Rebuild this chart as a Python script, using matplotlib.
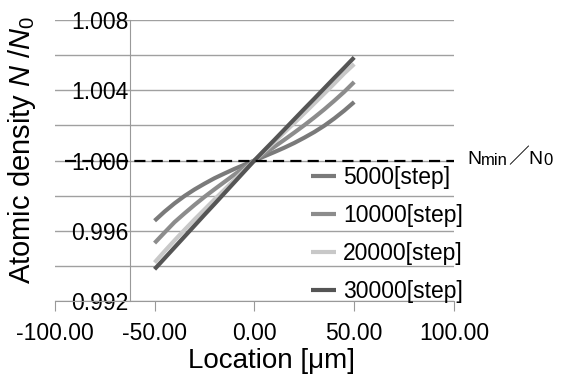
# Atomic density profile N/N0 vs location, Excel-style chart
import numpy as np
import matplotlib
matplotlib.use('Agg')
import matplotlib.pyplot as plt
from matplotlib.ticker import MultipleLocator, FormatStrFormatter

plt.rcParams['font.family'] = ['Liberation Sans', 'DejaVu Sans']
plt.rcParams['mathtext.fontset'] = 'custom'
plt.rcParams['mathtext.rm'] = 'Liberation Sans'
plt.rcParams['mathtext.it'] = 'Liberation Sans:italic'

# Data
location = [-50, -45, -40, -35, -30, -25, -20, -15, -10, -5, 0,
            5, 10, 15, 20, 25, 30, 35, 40, 45, 50]
n_5000 = [0.99657, 0.99709, 0.99756, 0.99798, 0.99835, 0.99868, 0.99899, 0.99926, 0.99952, 0.99976, 1.00000,
          1.00024, 1.00048, 1.00073, 1.00100, 1.00130, 1.00162, 1.00198, 1.00239, 1.00284, 1.00333]
n_10000 = [0.99530, 0.99590, 0.99649, 0.99699, 0.99747, 0.99793, 0.99836, 0.99878, 0.99920, 0.99960, 1.00000,
           1.00039, 1.00078, 1.00118, 1.00159, 1.00201, 1.00245, 1.00291, 1.00340, 1.00391, 1.00447]
n_20000 = [0.99419, 0.99483, 0.99545, 0.99605, 0.99664, 0.99721, 0.99778, 0.99834, 0.99890, 0.99945, 1.00000,
           1.00053, 1.00106, 1.00160, 1.00214, 1.00269, 1.00325, 1.00381, 1.00438, 1.00496, 1.00549]
n_30000 = [0.99381, 0.99443, 0.99505, 0.99567, 0.99629, 0.99691, 0.99752, 0.99814, 0.99876, 0.99938, 1.00000,
           1.00059, 1.00117, 1.00176, 1.00235, 1.00294, 1.00352, 1.00411, 1.00470, 1.00528, 1.00587]
labels = ['5000[step]', '10000[step]', '20000[step]', '30000[step]']
colors = ['#7a7a7a', '#8c8c8c', '#c8c8c8', '#555555']
n_min = 1.000

fig = plt.figure(figsize=(5.7, 3.74), dpi=100)
ax = fig.add_axes([0.0961, 0.1952, 0.7004, 0.7513])

for vals, lab, c in zip([n_5000, n_10000, n_20000, n_30000], labels, colors):
    ax.plot(location, vals, color=c, lw=3, label=lab, solid_capstyle='butt')

# Nmin/N0 reference line
ax.plot([-95, 100], [n_min, n_min], color='black', lw=1.6, dashes=(5, 2.8))

ax.set_xlim(-100, 100)
ax.set_ylim(0.992, 1.008)
ax.xaxis.set_major_locator(MultipleLocator(50))
ax.xaxis.set_major_formatter(FormatStrFormatter('%.2f'))
ax.yaxis.set_major_locator(MultipleLocator(0.004))
ax.yaxis.set_minor_locator(MultipleLocator(0.002))
ax.yaxis.set_major_formatter(FormatStrFormatter('%.3f'))
ax.grid(axis='y', which='both', color='#a0a0a0', lw=1)
ax.set_axisbelow(True)

for s in ['top', 'right']:
    ax.spines[s].set_visible(False)
ax.spines['left'].set_position(('data', -62.5))
ax.spines['left'].set_color('#999999')
ax.spines['bottom'].set_color('#999999')
ax.tick_params(axis='y', which='both', length=0, pad=1, labelsize=16.5)
ax.tick_params(axis='x', length=7, color='#999999', pad=8, labelsize=16.5)

ax.legend(loc='upper left', bbox_to_anchor=(311 / 570, 1 - 166 / 374),
          bbox_transform=fig.transFigure, frameon=False, fontsize=16.5,
          handlelength=1.1, handletextpad=0.3, labelspacing=0.66,
          borderpad=0, borderaxespad=0)

# Nmin / N0 label
t1 = fig.text(467 / 570, 1 - 164 / 374, 'N', fontsize=14, va='baseline')
t2 = ax.annotate('min', xy=(1, 0), xycoords=t1, fontsize=12, va='bottom')
t3 = ax.annotate('\uff0f', xy=(1, 0), xycoords=t2, fontsize=15, va='bottom',
                 family=['Noto Sans CJK JP', 'DejaVu Sans'])
t4 = ax.annotate('N', xy=(1, 0), xycoords=t3, fontsize=14, va='bottom')
ax.annotate('0', xy=(1, 0), xycoords=t4, fontsize=12, va='bottom')

fig.text(0.0386, 0.599, 'Atomic density $N$ /$N_0$', rotation=90,
         fontsize=21, ha='center', va='center')
fig.text(271 / 570, 1 - 368 / 374, 'Location [\u03bcm]', fontsize=20,
         ha='center', va='baseline')

fig.savefig('out.png', dpi=100)
